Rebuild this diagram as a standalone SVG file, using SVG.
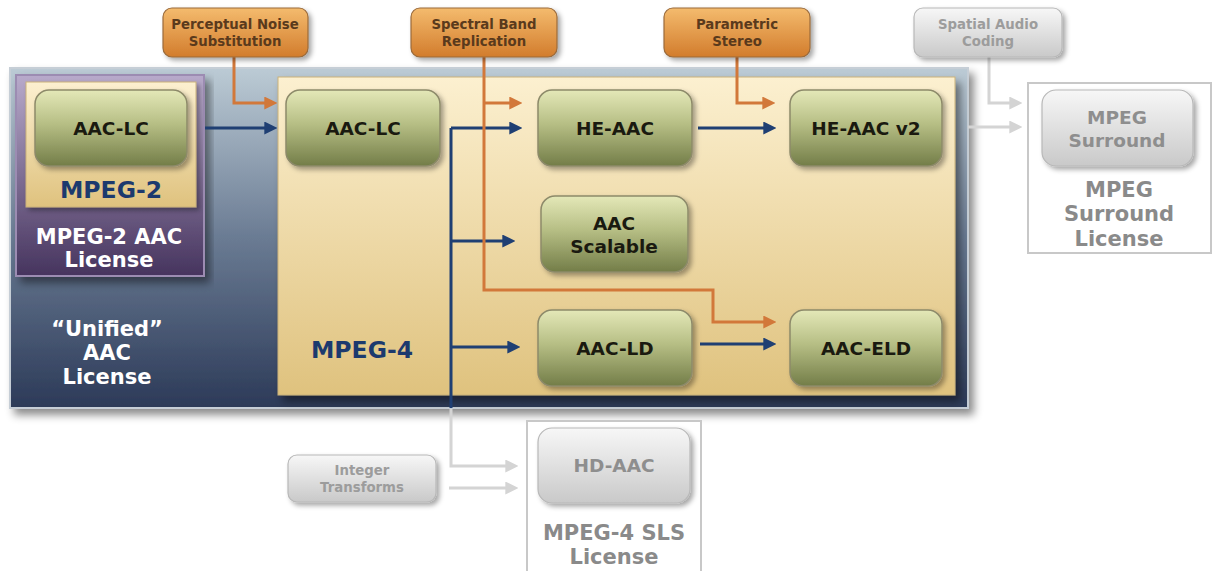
<svg xmlns="http://www.w3.org/2000/svg" width="1217" height="571" viewBox="0 0 1217 571">
<defs>
  <linearGradient id="gGreen" x1="0" y1="0" x2="0" y2="1">
    <stop offset="0" stop-color="#e4e8b8"/>
    <stop offset="0.45" stop-color="#b6be84"/>
    <stop offset="1" stop-color="#737d48"/>
  </linearGradient>
  <linearGradient id="gOrange" x1="0" y1="0" x2="0" y2="1">
    <stop offset="0" stop-color="#f4bb6e"/>
    <stop offset="1" stop-color="#d27c2c"/>
  </linearGradient>
  <linearGradient id="gGray" x1="0" y1="0" x2="0" y2="1">
    <stop offset="0" stop-color="#f7f7f7"/>
    <stop offset="1" stop-color="#c9c9c9"/>
  </linearGradient>
  <linearGradient id="gCream" x1="0" y1="0" x2="0" y2="1">
    <stop offset="0" stop-color="#fcf0d0"/>
    <stop offset="1" stop-color="#dfc27e"/>
  </linearGradient>
  <linearGradient id="gOuter" x1="0" y1="0" x2="0" y2="1">
    <stop offset="0" stop-color="#bccbd5"/>
    <stop offset="0.5" stop-color="#6a7b93"/>
    <stop offset="1" stop-color="#2c3a58"/>
  </linearGradient>
  <linearGradient id="gPurple" x1="0" y1="0" x2="0" y2="1">
    <stop offset="0" stop-color="#b8aacb"/>
    <stop offset="1" stop-color="#46345e"/>
  </linearGradient>
  <filter id="shadow" x="-20%" y="-20%" width="140%" height="150%">
    <feDropShadow dx="3" dy="3" stdDeviation="2.5" flood-color="#000" flood-opacity="0.35"/>
  </filter>
  <filter id="bigShadow" x="-5%" y="-5%" width="110%" height="115%">
    <feDropShadow dx="5" dy="6" stdDeviation="4" flood-color="#000" flood-opacity="0.45"/>
  </filter>
  <marker id="aOrange" viewBox="0 0 12 12" markerWidth="13" markerHeight="13" refX="8" refY="6" orient="auto" markerUnits="userSpaceOnUse">
    <path d="M0,0 L12,6 L0,12 z" fill="#d2783a"/>
  </marker>
  <marker id="aBlue" viewBox="0 0 12 12" markerWidth="13" markerHeight="13" refX="8" refY="6" orient="auto" markerUnits="userSpaceOnUse">
    <path d="M0,0 L12,6 L0,12 z" fill="#1f3f73"/>
  </marker>
  <marker id="aGray" viewBox="0 0 12 12" markerWidth="13" markerHeight="13" refX="8" refY="6" orient="auto" markerUnits="userSpaceOnUse">
    <path d="M0,0 L12,6 L0,12 z" fill="#d4d4d4"/>
  </marker>
</defs>
<style>
  text { font-family: "DejaVu Sans", Verdana, sans-serif; font-weight: bold; text-anchor: middle; }
  .green { fill: url(#gGreen); stroke: #8d8a6a; stroke-width: 1.5; filter: url(#shadow); }
  .orange { fill: url(#gOrange); stroke: #9a6a3a; stroke-width: 1.2; filter: url(#shadow); }
  .gray { fill: url(#gGray); stroke: #b8b8b8; stroke-width: 1.2; filter: url(#shadow); }
  .nodeText { font-size: 18.5px; fill: #1a1a10; }
  .grayNodeText { font-size: 18.5px; fill: #8e8e8e; }
  .smallText { font-size: 13.3px; fill: #5a3a1c; }
  .smallGray { font-size: 13.3px; fill: #9c9c9c; }
  .mpegBlue { font-size: 23.5px; fill: #1c3a6e; }
  .white { font-size: 21px; fill: #ffffff; }
  .licGray { font-size: 21px; fill: #8a8a8a; }
  .lo { fill: none; stroke: #d2783a; stroke-width: 3; marker-end: url(#aOrange); }
  .lb { fill: none; stroke: #1f3f73; stroke-width: 3; marker-end: url(#aBlue); }
  .lg { fill: none; stroke: #d4d4d4; stroke-width: 3; marker-end: url(#aGray); }
  .lbn { fill: none; stroke: #1f3f73; stroke-width: 3; }
</style>

<g id="unified-license">
  <rect x="10" y="68" width="958" height="340" fill="url(#gOuter)" stroke="#c6ced6" stroke-width="2" filter="url(#bigShadow)"/>
  <text class="white" x="107" y="336">“Unified”</text>
  <text class="white" x="107" y="360">AAC</text>
  <text class="white" x="107" y="384">License</text>
</g>

<g id="mpeg2-license">
  <rect x="16" y="75" width="188" height="201" fill="url(#gPurple)" stroke="#9c8cb2" stroke-width="2" filter="url(#bigShadow)"/>
  <rect x="26" y="82" width="170" height="125" fill="url(#gCream)" stroke="#c9b27a" stroke-width="1" filter="url(#shadow)"/>
  <text class="mpegBlue" x="111" y="198">MPEG-2</text>
  <text class="white" x="109" y="244">MPEG-2 AAC</text>
  <text class="white" x="109" y="267">License</text>
</g>

<g id="mpeg4">
  <rect x="278" y="77" width="677" height="318" fill="url(#gCream)" stroke="#c9b27a" stroke-width="1" filter="url(#bigShadow)"/>
  <text class="mpegBlue" x="362" y="358">MPEG-4</text>
</g>

<g id="mpeg-surround-license">
  <rect x="1028" y="83" width="183" height="170" fill="#ffffff" stroke="#c8c8c8" stroke-width="2"/>
  <text class="licGray" x="1119" y="197">MPEG</text>
  <text class="licGray" x="1119" y="221">Surround</text>
  <text class="licGray" x="1119" y="246">License</text>
</g>

<g id="mpeg4-sls-license">
  <rect x="527" y="421" width="174" height="152" fill="#ffffff" stroke="#c8c8c8" stroke-width="2"/>
  <text class="licGray" x="614" y="540">MPEG-4 SLS</text>
  <text class="licGray" x="614" y="564">License</text>
</g>

<g id="connectors">
  <path class="lbn" d="M451,408 V128"/>
  <path class="lb" d="M451,128 H518"/>
  <path class="lb" d="M451,241 H511"/>
  <path class="lb" d="M451,347 H516"/>
  <path class="lb" d="M205,128 H273"/>
  <path class="lb" d="M698,128 H772"/>
  <path class="lb" d="M700,344 H772"/>
  <path class="lo" d="M234,57 V103 H273"/>
  <path class="lo" d="M484,57 V290 H713 V322 H772"/>
  <path class="lo" d="M484,103 H518"/>
  <path class="lo" d="M737,57 V103 H771"/>
  <path class="lg" d="M968,127 H1018"/>
  <path class="lg" d="M989,57 V103 H1018"/>
  <path class="lg" d="M451,409 V466 H514"/>
  <path class="lg" d="M449,488 H514"/>
</g>

<g id="node-mpeg2-aac-lc">
  <rect class="green" x="35" y="90" width="152" height="76" rx="14"/>
  <text class="nodeText" x="111" y="135">AAC-LC</text>
</g>
<g id="node-aac-lc">
  <rect class="green" x="286" y="90" width="154" height="76" rx="14"/>
  <text class="nodeText" x="363" y="135">AAC-LC</text>
</g>
<g id="node-he-aac">
  <rect class="green" x="538" y="90" width="154" height="76" rx="14"/>
  <text class="nodeText" x="615" y="135">HE-AAC</text>
</g>
<g id="node-he-aac-v2">
  <rect class="green" x="790" y="90" width="152" height="76" rx="14"/>
  <text class="nodeText" x="866" y="135">HE-AAC v2</text>
</g>
<g id="node-aac-scalable">
  <rect class="green" x="541" y="196" width="147" height="76" rx="14"/>
  <text class="nodeText" x="614" y="230">AAC</text>
  <text class="nodeText" x="614" y="253">Scalable</text>
</g>
<g id="node-aac-ld">
  <rect class="green" x="538" y="310" width="154" height="76" rx="14"/>
  <text class="nodeText" x="615" y="355">AAC-LD</text>
</g>
<g id="node-aac-eld">
  <rect class="green" x="790" y="310" width="152" height="76" rx="14"/>
  <text class="nodeText" x="866" y="355">AAC-ELD</text>
</g>

<g id="node-pns">
  <rect class="orange" x="163" y="8" width="145" height="49" rx="9"/>
  <text class="smallText" x="235" y="29">Perceptual Noise</text>
  <text class="smallText" x="235" y="46">Substitution</text>
</g>
<g id="node-sbr">
  <rect class="orange" x="411" y="8" width="146" height="49" rx="9"/>
  <text class="smallText" x="484" y="29">Spectral Band</text>
  <text class="smallText" x="484" y="46">Replication</text>
</g>
<g id="node-ps">
  <rect class="orange" x="664" y="8" width="146" height="49" rx="9"/>
  <text class="smallText" x="737" y="29">Parametric</text>
  <text class="smallText" x="737" y="46">Stereo</text>
</g>
<g id="node-sac">
  <rect class="gray" x="914" y="8" width="148" height="49" rx="9"/>
  <text class="smallGray" x="988" y="29">Spatial Audio</text>
  <text class="smallGray" x="988" y="46">Coding</text>
</g>
<g id="node-mpeg-surround">
  <rect class="gray" x="1042" y="90" width="151" height="76" rx="14"/>
  <text class="grayNodeText" x="1117" y="124">MPEG</text>
  <text class="grayNodeText" x="1117" y="147">Surround</text>
</g>
<g id="node-hd-aac">
  <rect class="gray" x="538" y="428" width="152" height="75" rx="14"/>
  <text class="grayNodeText" x="614" y="472">HD-AAC</text>
</g>
<g id="node-integer-transforms">
  <rect class="gray" x="288" y="455" width="148" height="47" rx="9"/>
  <text class="smallGray" x="362" y="475">Integer</text>
  <text class="smallGray" x="362" y="492">Transforms</text>
</g>
</svg>
